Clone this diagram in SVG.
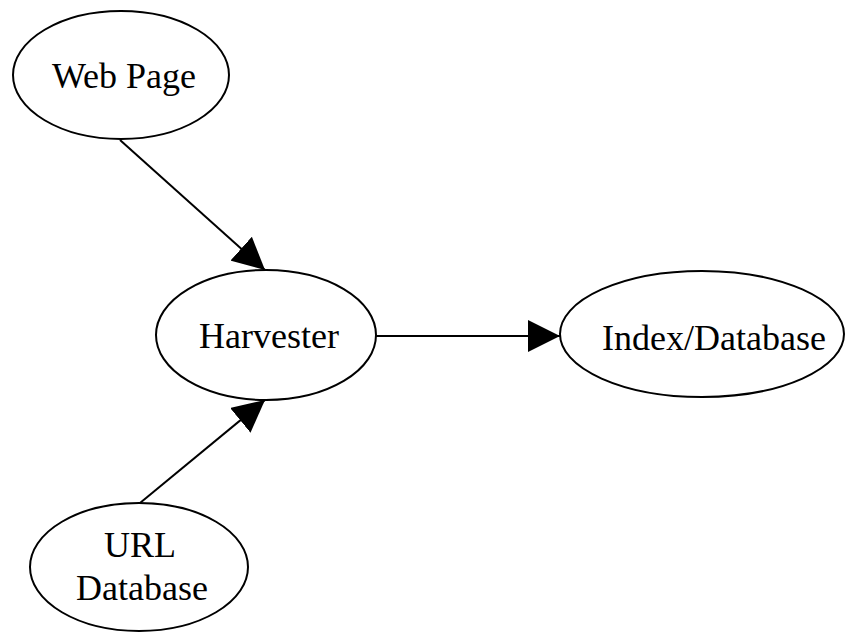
<svg xmlns="http://www.w3.org/2000/svg" width="845" height="632" viewBox="0 0 845 632">
<style>
.n{fill:#fff;stroke:#000;stroke-width:2}
.t{font-family:"Liberation Serif","Times New Roman",serif;font-size:36px;fill:#000;text-anchor:middle}
.e{stroke:#000;stroke-width:2;fill:none}
</style>
<defs>
<marker id="ah" markerUnits="userSpaceOnUse" markerWidth="32" markerHeight="32" viewBox="0 0 30 30" refX="30" refY="15" orient="auto">
<path d="M0,0 L30,15 L0,30 Z" fill="#000"/>
</marker>
</defs>
<rect width="845" height="632" fill="#fff"/>
<g id="connectors">
<line class="e" x1="120" y1="140" x2="265" y2="270" marker-end="url(#ah)"/>
<line class="e" x1="140" y1="503" x2="265" y2="400" marker-end="url(#ah)"/>
<line class="e" x1="376" y1="336" x2="560" y2="336" marker-end="url(#ah)"/>
</g>
<g id="webpage">
<ellipse class="n" cx="121" cy="75" rx="108" ry="64"/>
<text class="t" x="124" y="88">Web Page</text>
</g>
<g id="harvester">
<ellipse class="n" cx="266" cy="335" rx="110" ry="65"/>
<text class="t" x="269" y="348">Harvester</text>
</g>
<g id="index">
<ellipse class="n" cx="702" cy="334" rx="142" ry="63"/>
<text class="t" x="714" y="350">Index/Database</text>
</g>
<g id="urldb">
<ellipse class="n" cx="139" cy="567" rx="109" ry="64"/>
<text class="t" x="140" y="557">URL</text>
<text class="t" x="142" y="600">Database</text>
</g>
</svg>
